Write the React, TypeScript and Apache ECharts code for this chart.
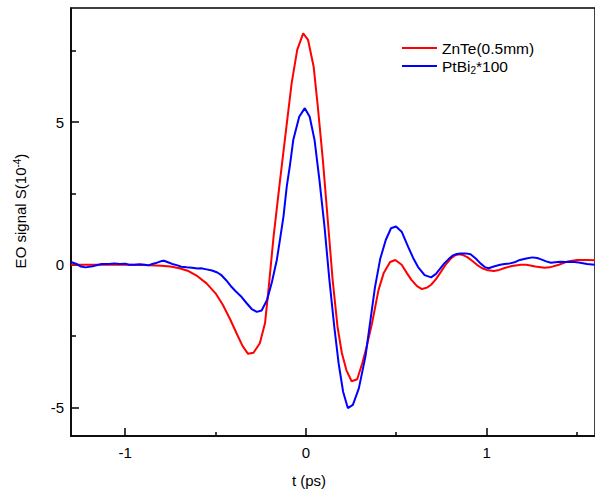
import React, { useEffect, useRef } from "react";
import * as echarts from "echarts";

const znteTime = [-1.3, -1.2, -1.1, -1.0, -0.9, -0.8, -0.75, -0.7, -0.65, -0.6, -0.55, -0.5, -0.46, -0.42, -0.38, -0.35, -0.32, -0.29, -0.255, -0.226, -0.206, -0.179, -0.143, -0.11, -0.079, -0.048, -0.015, 0.012, 0.043, 0.066, 0.094, 0.121, 0.148, 0.175, 0.199, 0.224, 0.253, 0.284, 0.312, 0.335, 0.366, 0.402, 0.43, 0.466, 0.495, 0.53, 0.56, 0.584, 0.615, 0.642, 0.67, 0.693, 0.72, 0.748, 0.775, 0.802, 0.825, 0.847, 0.87, 0.893, 0.92, 0.947, 0.975, 1.0, 1.04, 1.07, 1.1, 1.14, 1.19, 1.22, 1.27, 1.32, 1.35, 1.4, 1.45, 1.5, 1.56, 1.6];
const znteSignal = [0, 0, 0, 0, -0.01, -0.03, -0.06, -0.12, -0.22, -0.4, -0.65, -1.0, -1.4, -1.9, -2.45, -2.85, -3.12, -3.08, -2.75, -2.04, -0.8, 0.98, 2.97, 4.72, 6.36, 7.53, 8.11, 7.88, 6.94, 5.54, 3.67, 1.57, -0.53, -2.17, -3.09, -3.69, -4.08, -4.01, -3.45, -2.9, -2.05, -0.88, -0.3, 0.1, 0.17, 0.0, -0.3, -0.53, -0.75, -0.85, -0.8, -0.7, -0.5, -0.24, 0.02, 0.22, 0.33, 0.37, 0.34, 0.27, 0.14, 0.0, -0.12, -0.18, -0.22, -0.18, -0.11, -0.04, 0.0, 0.0, -0.06, -0.1, -0.09, 0.0, 0.12, 0.17, 0.17, 0.16];

const ptbiTime = [-1.3, -1.27, -1.245, -1.22, -1.18, -1.13, -1.09, -1.06, -1.03, -1.0, -0.98, -0.95, -0.92, -0.89, -0.87, -0.85, -0.83, -0.8, -0.785, -0.76, -0.74, -0.71, -0.69, -0.66, -0.63, -0.6, -0.58, -0.55, -0.52, -0.49, -0.47, -0.44, -0.415, -0.39, -0.36, -0.33, -0.3, -0.272, -0.245, -0.215, -0.188, -0.161, -0.143, -0.124, -0.106, -0.088, -0.07, -0.037, -0.006, 0.021, 0.048, 0.075, 0.103, 0.13, 0.157, 0.181, 0.206, 0.232, 0.26, 0.293, 0.33, 0.357, 0.382, 0.411, 0.442, 0.471, 0.499, 0.53, 0.566, 0.593, 0.62, 0.657, 0.693, 0.72, 0.745, 0.766, 0.79, 0.811, 0.835, 0.857, 0.885, 0.911, 0.94, 0.966, 0.99, 1.011, 1.04, 1.075, 1.1, 1.13, 1.16, 1.184, 1.22, 1.253, 1.28, 1.302, 1.33, 1.356, 1.38, 1.41, 1.44, 1.474, 1.51, 1.556, 1.6];
const ptbiSignal = [0.1, 0.03, -0.06, -0.09, -0.05, 0.03, 0.03, 0.05, 0.03, 0.04, 0.0, 0.0, 0.02, 0.0, -0.02, 0.03, 0.06, 0.13, 0.14, 0.08, 0.03, -0.02, -0.07, -0.09, -0.1, -0.13, -0.12, -0.16, -0.2, -0.27, -0.35, -0.55, -0.75, -0.92, -1.1, -1.33, -1.55, -1.65, -1.6, -1.23, -0.6, 0.17, 0.9, 1.7, 2.74, 3.5, 4.37, 5.19, 5.49, 5.19, 4.37, 2.97, 1.34, -0.53, -2.17, -3.45, -4.45, -5.02, -4.91, -4.33, -3.2, -1.95, -0.8, 0.2, 0.87, 1.28, 1.34, 1.16, 0.63, 0.25, -0.07, -0.36, -0.44, -0.32, -0.12, 0.05, 0.2, 0.32, 0.38, 0.4, 0.4, 0.37, 0.22, 0.05, -0.08, -0.12, -0.06, 0.0, 0.03, 0.05, 0.1, 0.17, 0.22, 0.26, 0.24, 0.19, 0.12, 0.07, 0.09, 0.11, 0.1, 0.11, 0.08, 0.03, 0.0];

const xMajorTicks = [-1, 0, 1];
const xMinorTicks = [-0.5, 0.5, 1.5];
const yMajorTicks = [-5, 0, 5];
const yMinorTicks = [-2.5, 2.5, 7.5];

const seriesNames = ["ZnTe(0.5mm)", "PtBi2*100"];

const FONT = "Liberation Sans, Arial, sans-serif";

export default function App() {
  const ref = useRef<HTMLDivElement>(null);
  useEffect(() => {
    if (!ref.current) return;
    const chart = echarts.init(ref.current, null, { renderer: "svg" });
    const zip = (t: number[], v: number[]) => t.map((x, i) => [x, v[i]]);
    const xBase = { type: "value", min: -1.3, max: 1.6, splitLine: { show: false } };
    const yBase = { type: "value", min: -6, max: 9, splitLine: { show: false } };
    chart.setOption({
      animation: false,
      backgroundColor: "#fff",
      grid: {
        left: 71,
        top: 8,
        width: 532,
        height: 428,
        show: true,
        borderColor: "#000",
        borderWidth: 1.5,
        backgroundColor: "transparent",
      },
      xAxis: [
        {
          ...xBase,
          position: "bottom",
          axisLine: { show: true, onZero: false, lineStyle: { color: "#000", width: 1.5 } },
          axisTick: { show: true, inside: true, length: 8, customValues: xMajorTicks, lineStyle: { color: "#000", width: 1.5 } },
          axisLabel: { show: true, customValues: xMajorTicks, margin: 9, fontSize: 15, color: "#000", fontFamily: FONT },
        },
        {
          ...xBase,
          position: "bottom",
          axisLine: { show: false, onZero: false },
          axisTick: { show: true, inside: true, length: 4, customValues: xMinorTicks, lineStyle: { color: "#000", width: 1.5 } },
          axisLabel: { show: false },
        },
      ],
      yAxis: [
        {
          ...yBase,
          position: "left",
          axisLine: { show: true, onZero: false, lineStyle: { color: "#000", width: 1.5 } },
          axisTick: { show: true, inside: true, length: 8, customValues: yMajorTicks, lineStyle: { color: "#000", width: 1.5 } },
          axisLabel: { show: true, customValues: yMajorTicks, margin: 7, fontSize: 15, color: "#000", fontFamily: FONT },
        },
        {
          ...yBase,
          position: "left",
          axisLine: { show: false, onZero: false },
          axisTick: { show: true, inside: true, length: 5, customValues: yMinorTicks, lineStyle: { color: "#000", width: 1.5 } },
          axisLabel: { show: false },
        },
      ],
      legend: {
        orient: "vertical",
        left: 397,
        top: 34,
        icon: "rect",
        itemWidth: 35,
        itemHeight: 2,
        itemGap: 0,
        data: seriesNames,
        formatter: (name: string) => (name === "PtBi2*100" ? "PtBi{sub|2}*100" : name),
        textStyle: {
          fontSize: 15.5,
          color: "#000",
          fontFamily: FONT,
          lineHeight: 18,
          rich: {
            sub: { fontSize: 10, fontFamily: FONT, color: "#000", verticalAlign: "bottom", lineHeight: 18, padding: [8, 0, 0, 0] },
          },
        },
      },
      graphic: [
        {
          type: "text",
          x: 20,
          y: 211,
          rotation: Math.PI / 2,
          style: {
            text: "EO signal S(10{sup|-4})",
            align: "center",
            verticalAlign: "middle",
            fontSize: 15,
            fontFamily: FONT,
            fill: "#000",
            rich: {
              sup: { fontSize: 10, fontFamily: FONT, fill: "#000", verticalAlign: "top", padding: [0, 0, 6, 0] },
            },
          },
        },
        {
          type: "text",
          x: 309,
          y: 480,
          style: {
            text: "t (ps)",
            align: "center",
            verticalAlign: "middle",
            fontSize: 15,
            fontFamily: FONT,
            fill: "#000",
          },
        },
      ],
      series: [
        {
          name: seriesNames[0],
          type: "line",
          xAxisIndex: 0,
          yAxisIndex: 0,
          data: zip(znteTime, znteSignal),
          symbol: "none",
          lineStyle: { color: "#ff0000", width: 2 },
          itemStyle: { color: "#ff0000" },
          z: 3,
        },
        {
          name: seriesNames[1],
          type: "line",
          xAxisIndex: 0,
          yAxisIndex: 0,
          data: zip(ptbiTime, ptbiSignal),
          symbol: "none",
          lineStyle: { color: "#0000ff", width: 2 },
          itemStyle: { color: "#0000ff" },
          z: 4,
        },
      ],
    });
    return () => chart.dispose();
  }, []);
  return <div ref={ref} style={{ position: "fixed", left: 0, top: 0, width: 595, height: 493 }} />;
}
